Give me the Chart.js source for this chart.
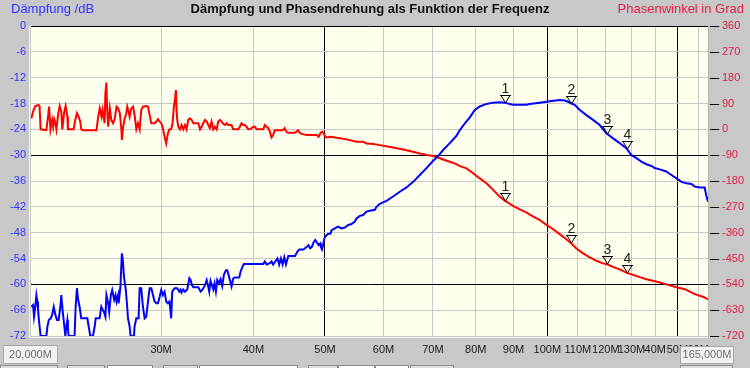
<!DOCTYPE html>
<html>
<head>
<meta charset="utf-8">
<script src="https://cdn.jsdelivr.net/npm/chart.js@4.4.1/dist/chart.umd.min.js"></script>
<style>
  html, body { margin: 0; padding: 0; background: #c8c8c8; }
  canvas { display: block; }
</style>
</head>
<body>
<canvas id="chart" width="750" height="368"></canvas>
<script>
// Daten
var titleText = "Dämpfung und Phasendrehung als Funktion der Frequenz";
var leftTitle = "Dämpfung /dB";
var rightTitle = "Phasenwinkel in Grad";

// Dämpfung: Frequenz in MHz / Wert in dB
var dampFreq = [
  20.02, 20.13, 20.19, 20.27, 20.34, 20.40, 20.44, 20.50, 20.61, 20.98,
  21.05, 21.14, 21.27, 21.36, 21.47, 21.58, 21.69, 21.80, 21.92, 21.98,
  22.07, 22.17, 22.26, 22.33, 22.40, 22.44, 22.49, 22.91, 22.98, 23.08,
  23.15, 23.27, 23.39, 23.52, 23.84, 23.94, 24.06, 24.26, 24.39, 24.47,
  24.77, 24.90, 25.03, 25.11, 25.22, 25.30, 25.44, 25.52, 25.65, 25.76,
  25.92, 26.03, 26.11, 26.24, 26.28, 26.42, 26.55, 26.64, 26.72, 26.78,
  26.86, 26.97, 27.06, 27.20, 27.28, 27.57, 27.62, 27.77, 27.97, 28.06,
  28.20, 28.35, 28.50, 28.65, 28.80, 28.95, 29.10, 29.25, 29.40, 29.56,
  29.71, 29.87, 30.02, 30.17, 30.33, 30.48, 30.64, 30.80, 30.96, 31.06,
  31.29, 31.55, 31.75, 31.88, 31.98, 32.15, 32.32, 32.55, 32.76, 32.89,
  33.03, 33.17, 33.69, 33.94, 34.15, 34.40, 34.58, 34.72, 34.86, 35.00,
  35.15, 35.30, 35.44, 35.59, 35.74, 35.93, 36.11, 36.30, 36.49, 36.72,
  36.87, 37.02, 37.18, 37.37, 37.57, 37.77, 38.28, 38.43, 38.67, 38.83,
  39.08, 41.25, 41.46, 41.68, 42.11, 42.33, 42.54, 42.90, 43.12, 43.35,
  43.58, 43.81, 44.04, 44.27, 44.60, 45.55, 45.88, 46.17, 46.76, 47.25,
  47.50, 47.75, 48.00, 48.25, 48.51, 48.76, 49.02, 49.28, 49.38, 49.54,
  49.70, 49.91, 50.12, 50.44, 50.88, 51.03, 51.56, 52.10, 52.64, 53.20,
  53.76, 54.31, 54.88, 55.17, 55.74, 56.32, 56.91, 57.50, 58.41, 58.71,
  59.32, 60.57, 61.83, 63.14, 64.46, 65.82, 67.20, 68.61, 70.05, 71.15,
  72.26, 73.78, 75.33, 76.11, 77.32, 78.53, 79.76, 81.01, 82.71, 84.44,
  86.22, 87.58, 88.95, 89.88, 93.72, 94.67, 97.67, 100.74, 103.94, 105.58,
  106.68, 107.79, 108.91, 110.63, 112.95, 115.30, 117.73, 120.21, 122.74, 125.30,
  127.94, 129.95, 132.00, 134.05, 136.17, 138.30, 139.74, 141.93, 144.87, 147.21,
  149.57, 151.91, 154.29, 156.66, 158.28, 160.79, 163.30, 164.10, 165.00
];
var dampDb = [
  -65.2, -64.8, -67.5, -65.2, -62.5, -64.0, -65.6, -68.3, -72, -72,
  -69.8, -68.3, -67.9, -67.1, -65.2, -67.1, -68.3, -68.3, -65.2, -62.5,
  -66.0, -69.1, -72, -69.8, -68.3, -70.2, -72, -72, -65.6, -60.9,
  -63.3, -65.2, -67.9, -67.9, -67.9, -69.8, -72, -72, -69.8, -67.9,
  -67.9, -65.2, -66.0, -66.4, -67.5, -62.5, -64.4, -66.4, -62.5, -61.3,
  -63.6, -62.5, -64.0, -62.5, -64.4, -60.9, -52.8, -54.7, -58.2, -59.4,
  -60.9, -64.4, -67.9, -69.8, -72, -72, -69.8, -67.9, -67.9, -60.9,
  -60.9, -65.2, -67.9, -67.5, -64.0, -60.9, -60.9, -62.5, -64.0, -64.4,
  -64.4, -62.9, -61.3, -62.5, -61.7, -64.0, -64.4, -64.0, -67.9, -61.7,
  -60.9, -60.9, -61.7, -61.2, -61.9, -61.2, -61.7, -61.2, -58.6, -59.0,
  -60.2, -60.7, -60.7, -61.7, -61.2, -60.2, -59.0, -60.2, -61.7, -59.2,
  -60.2, -61.2, -59.8, -61.7, -59.0, -59.8, -58.8, -60.4, -57.8, -56.7,
  -56.7, -57.8, -59.0, -60.5, -58.6, -58.4, -58.4, -57.1, -55.9, -55.3,
  -55.3, -55.3, -54.7, -55.4, -55.1, -54.7, -55.4, -54.5, -54.0, -55.4,
  -54.0, -55.4, -53.7, -55.4, -53.4, -53.4, -52.4, -51.9, -51.9, -51.3,
  -50.9, -51.6, -51.3, -50.3, -49.7, -50.3, -50.9, -50.5, -51.4, -51.9,
  -50.9, -49.3, -48.8, -48.3, -48.2, -47.5, -47.0, -46.6, -47.0, -46.8,
  -46.2, -46.0, -45.4, -44.7, -44.1, -43.9, -43.1, -42.9, -42.7, -42.0,
  -41.3, -40.6, -39.6, -38.5, -37.5, -36.2, -34.6, -33.0, -31.3, -30.2,
  -28.8, -27.2, -25.5, -24.2, -22.6, -21.2, -19.5, -18.7, -18.1, -17.8,
  -17.7, -17.8, -18.1, -18.3, -18.3, -18.1, -17.8, -17.5, -17.2, -17.3,
  -17.6, -18.0, -18.3, -19.5, -20.7, -21.8, -23.0, -24.9, -26.1, -27.2,
  -28.4, -30.0, -30.7, -31.5, -32.1, -32.5, -33.0, -33.3, -33.8, -34.6,
  -35.4, -36.2, -36.5, -36.7, -37.3, -37.5, -37.5, -39.3, -40.8
];

// Phase: Frequenz in MHz / Winkel in Grad
var phaseFreq = [
  20.02, 20.13, 20.27, 20.48, 20.54, 20.61, 20.98, 21.09, 21.16, 21.25,
  21.36, 21.43, 21.50, 21.58, 21.65, 21.76, 21.87, 21.98, 22.05, 22.17,
  22.28, 22.40, 22.44, 22.84, 22.96, 23.08, 23.20, 23.32, 23.39, 23.52,
  24.53, 24.66, 24.78, 24.92, 25.00, 25.16, 25.22, 25.30, 25.35, 25.44,
  25.57, 25.69, 25.83, 25.97, 26.11, 26.24, 26.38, 26.51, 26.55, 26.64,
  26.78, 26.92, 27.00, 27.11, 27.20, 27.34, 27.49, 27.62, 27.77, 27.91,
  28.06, 28.20, 28.35, 28.65, 28.80, 28.95, 29.10, 29.40, 29.56, 29.71,
  29.87, 30.02, 30.17, 30.33, 30.48, 30.64, 30.80, 30.96, 31.09, 31.22,
  31.32, 31.42, 31.48, 31.55, 31.65, 31.82, 31.98, 32.15, 32.32, 32.48,
  32.65, 32.82, 32.99, 33.17, 33.69, 33.87, 34.04, 34.22, 34.40, 34.58,
  34.76, 34.93, 35.11, 35.30, 35.48, 35.67, 35.85, 36.04, 36.23, 36.42,
  36.61, 36.80, 36.99, 37.37, 37.57, 38.16, 38.35, 38.55, 38.75, 38.95,
  39.15, 39.36, 39.56, 39.77, 39.98, 40.19, 40.40, 41.25, 41.46, 41.68,
  41.90, 42.11, 42.33, 42.54, 42.76, 43.86, 44.09, 44.32, 44.55, 45.50,
  45.74, 45.98, 46.22, 46.47, 47.21, 48.76, 49.02, 49.28, 49.54, 49.80,
  50.06, 50.33, 50.88, 52.37, 53.48, 55.17, 56.32, 56.91, 58.11, 59.32,
  61.83, 63.80, 65.82, 67.20, 68.61, 70.05, 71.15, 72.26, 73.78, 75.33,
  76.11, 77.73, 79.35, 81.01, 82.71, 84.44, 86.22, 87.67, 89.88, 91.76,
  93.72, 95.71, 97.67, 99.73, 101.80, 103.94, 106.12, 107.67, 109.48, 111.79,
  114.13, 116.52, 118.95, 120.45, 122.74, 125.30, 128.09, 130.63, 133.40, 136.17,
  141.20, 145.70, 149.60, 153.50, 158.30, 162.40, 165.00
];
var phaseDeg = [
  38, 62, 81, 85, 81, 0, -3, 44, 79, 0,
  33, 9, 35, 23, 0, 50, 81, 62, 0, 56,
  81, 44, 0, 0, 33, 56, 44, 27, 0, -3,
  -3, 44, 73, 44, 67, 21, 125, 163, 79, 9,
  73, 33, 21, 38, 79, 73, 56, 0, -37, 4,
  38, 56, 79, 62, 44, 73, 79, 50, 0, 21,
  0, 67, 79, 81, 79, 50, 21, 21, 27, 35,
  27, 21, 4, -26, -49, -14, 0, 0, 21, 79,
  102, 137, 67, 33, 9, 0, 15, 0, 15, 0,
  33, 38, 33, 21, 21, 0, 9, 21, 33, 27,
  15, 4, 27, 0, 9, 0, 27, 33, 27, 19,
  15, 21, 15, 15, 0, 0, 9, 21, 15, 15,
  9, 0, 0, 4, 9, 9, 0, 0, 15, 9,
  4, -8, -28, -20, -3, -3, 4, -8, -12, -12,
  -8, -3, -12, -16, -20, -20, -26, -14, -8, -14,
  -26, -28, -26, -31, -35, -43, -43, -49, -51, -55,
  -63, -70, -78, -84, -89, -93, -98, -105, -113, -121,
  -128, -136, -153, -171, -188, -211, -235, -249, -267, -279,
  -290, -304, -316, -333, -348, -365, -383, -397, -415, -432,
  -446, -458, -467, -470, -479, -488, -500, -507, -515, -522,
  -532, -542, -550, -557, -574, -583, -592
];

// Marker 1..4
var markerNames = ["1", "2", "3", "4"];
var markerFreq = [87.7, 107.7, 120.5, 128.1];
var markerDamp = [-17.8, -18.0, -25.0, -28.6];
var markerPhase = [-249, -397, -470, -500];

// Achsen
var xTickValues = [30, 40, 50, 60, 70, 80, 90, 100, 110, 120, 130, 140, 150, 160];
var xTickLabels = ["30M", "40M", "50M", "60M", "70M", "80M", "90M", "100M", "110M", "120M", "130M", "40M", "50M", "60M"];
var startLabel = "20,000M";
var endLabel = "165,000M";

Chart.defaults.font.family = "'Liberation Sans', Arial, sans-serif";
Chart.defaults.font.size = 11;

var dampPoints = [];
for (i = 0; i < dampFreq.length; i++) {
  dampPoints.push({ x: dampFreq[i], y: dampDb[i] });
}
var phasePoints = [];
for (i = 0; i < phaseFreq.length; i++) {
  phasePoints.push({ x: phaseFreq[i], y: phaseDeg[i] });
}

function drawMarker(c, x, y, name) {
  c.beginPath();
  c.moveTo(x - 5.5, y - 7.5);
  c.lineTo(x + 5.5, y - 7.5);
  c.moveTo(x - 4.5, y - 7.5);
  c.lineTo(x, y);
  c.lineTo(x + 4.5, y - 7.5);
  c.stroke();
  c.fillText(name, x, y - 10);
}

// Hintergrund, Beschriftungen, Marker
var frame = {
  id: "frame",
  beforeDraw: function (chart) {
    var c = chart.ctx, a = chart.chartArea;
    c.save();
    c.fillStyle = "#c8c8c8";
    c.fillRect(0, 0, chart.width, chart.height);
    c.fillStyle = "#ffffee";
    c.fillRect(a.left, a.top, a.right - a.left, a.bottom - a.top);
    c.restore();
  },
  afterDraw: function (chart) {
    var c = chart.ctx, a = chart.chartArea;
    var sx = chart.scales.x, sy = chart.scales.y, sp = chart.scales.y2;
    c.save();

    // Kopfzeile
    c.textBaseline = "middle";
    c.font = "bold 13px 'Liberation Sans', Arial";
    c.fillStyle = "#111111";
    c.textAlign = "center";
    c.fillText(titleText, 370, 9);
    c.font = "13px 'Liberation Sans', Arial";
    c.fillStyle = "#3333ff";
    c.textAlign = "left";
    c.fillText(leftTitle, 11, 9);
    c.fillStyle = "#e0204f";
    c.textAlign = "right";
    c.fillText(rightTitle, 744, 9);

    // Striche der Phasenachse
    c.strokeStyle = "#000000";
    c.lineWidth = 1;
    sp.ticks.forEach(function (t) {
      var y = Math.round(sp.getPixelForValue(t.value)) + 0.5;
      c.beginPath();
      c.moveTo(a.right + 2, y);
      c.lineTo(a.right + (t.value % 90 === 0 ? 11 : 7), y);
      c.stroke();
    });

    // Rahmen
    c.strokeStyle = "#f4f4f4";
    c.beginPath();
    c.moveTo(a.left - 1.5, a.top);
    c.lineTo(a.left - 1.5, a.bottom + 1.5);
    c.lineTo(a.right, a.bottom + 1.5);
    c.stroke();

    // Marker
    c.strokeStyle = "#000000";
    c.fillStyle = "#222222";
    c.font = "14px 'Liberation Sans', Arial";
    c.textAlign = "center";
    c.textBaseline = "alphabetic";
    for (i = 0; i < markerFreq.length; i++) {
      var mx = Math.round(sx.getPixelForValue(markerFreq[i])) + 0.5;
      drawMarker(c, mx, Math.round(sy.getPixelForValue(markerDamp[i])), markerNames[i]);
      drawMarker(c, mx, Math.round(sp.getPixelForValue(markerPhase[i])), markerNames[i]);
    }

    // Knöpfe unten
    var buttons = [[0, 58, "#dcdcdc"], [67, 105, "#dcdcdc"], [107, 153, "#ffffff"], [163, 198, "#dcdcdc"],
                   [199, 298, "#ffffff"], [308, 338, "#dcdcdc"], [338, 375, "#ffffff"], [375, 409, "#ffffff"],
                   [410, 454, "#dcdcdc"], [680, 733, "#dcdcdc"]];
    c.strokeStyle = "#8c8c8c";
    buttons.forEach(function (b) {
      c.fillStyle = b[2];
      c.fillRect(b[0], 365, b[1] - b[0], 6);
      c.strokeRect(b[0] + 0.5, 365.5, b[1] - b[0] - 1, 6);
    });

    // Start / Ende
    c.font = "11px 'Liberation Sans', Arial";
    c.textBaseline = "middle";
    c.fillStyle = "#f2f2f2";
    c.strokeStyle = "#a8a8a8";
    c.fillRect(3, 345, 54, 18);
    c.strokeRect(3.5, 345.5, 54, 18);
    c.fillRect(680, 346, 53, 17);
    c.strokeRect(680.5, 346.5, 53, 17);
    c.fillStyle = "#6e6e6e";
    c.fillText(startLabel, 30.5, 355);
    c.fillText(endLabel, 707, 355);
    c.restore();
  }
};

var ctx = document.getElementById("chart").getContext("2d");
var chart = new Chart(ctx, {
  type: "line",
  data: {
    datasets: [
      {
        label: "Dämpfung",
        data: dampPoints,
        yAxisID: "y",
        borderColor: "#0000ff",
        borderWidth: 2,
        pointRadius: 0,
        tension: 0,
        fill: false,
      },
      {
        label: "Phase",
        data: phasePoints,
        yAxisID: "y2",
        borderColor: "#ff0000",
        borderWidth: 2,
        pointRadius: 0,
        tension: 0,
        fill: false,
      },
    ],
  },
  options: {
    responsive: false,
    animation: false,
    devicePixelRatio: 1,
    layout: { padding: { top: 26, left: 0, right: 0, bottom: 0 } },
    plugins: { legend: { display: false }, tooltip: { enabled: false } },
    scales: {
      x: {
        type: "logarithmic",
        min: 20,
        max: 165,
        afterBuildTicks: function (s) {
          s.ticks = xTickValues.map(function (v) { return { value: v }; });
        },
        afterFit: function (s) { s.height = 32; },
        ticks: {
          autoSkip: false,
          maxRotation: 0,
          padding: 7,
          color: "#1a1a1a",
          callback: function (v) { return xTickLabels[xTickValues.indexOf(v)]; },
        },
        grid: {
          drawTicks: false,
          color: function (c) {
            return c.tick && [50, 100, 150].indexOf(c.tick.value) >= 0 ? "#000000" : "#c8c8c8";
          },
        },
        border: { display: false },
      },
      y: {
        position: "left",
        min: -72,
        max: 0,
        afterBuildTicks: function (s) {
          var t = [];
          for (var v = -72; v <= 0; v += 6) t.push({ value: v });
          s.ticks = t;
        },
        afterFit: function (s) { s.width = 31; },
        ticks: { color: "#3333ff", padding: 5 },
        grid: {
          drawTicks: false,
          color: function (c) {
            return c.tick && [0, -30, -60].indexOf(c.tick.value) >= 0 ? "#000000" : "#c8c8c8";
          },
        },
        border: { display: false },
      },
      y2: {
        position: "right",
        min: -720,
        max: 360,
        afterBuildTicks: function (s) {
          var t = [];
          for (var v = -720; v <= 360; v += 45) t.push({ value: v });
          s.ticks = t;
        },
        afterFit: function (s) { s.width = 42; },
        ticks: {
          color: "#e0204f",
          padding: 14,
          callback: function (v) { return v % 90 === 0 ? String(v) : ""; },
        },
        grid: { display: false, drawTicks: false },
        border: { display: true, color: "#b4b4b4" },
      },
    },
  },
  plugins: [frame],
});
</script>
</body>
</html>
